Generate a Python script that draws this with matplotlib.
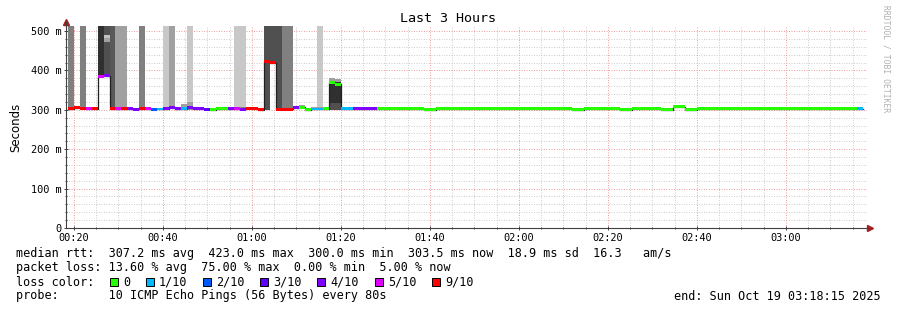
import numpy as np
import matplotlib.pyplot as plt
from matplotlib.patches import Rectangle

nan = np.nan

# time window (seconds since midnight)
t_start = 1095    # 00:18:15
t_end = 11895     # 03:18:15
step = 80
first_step = 1042

# median rtt per 80 s step (ms)
median = [nan, 303, 305, 304, 303, 303, 385, 387, 303, 303,
          303, 303, 301, 303, 303, 301, 302, 303, 305, 303,
          303, 305, 303, 303, 301, 300, 303, 303, 303, 303,
          301, 304, 303, 300, 423, 420, 301, 301, 301, 305,
          307, 300, 302, 302, 303, 370, 365, 303, 303, 303,
          303, 303, 303, 303, 303, 303, 303, 303, 303, 303,
          303, 300, 300, 303, 303, 303, 303, 303, 303, 303,
          303, 303, 303, 303, 303, 303, 303, 303, 303, 303,
          303, 303, 303, 303, 303, 303, 300, 300, 303, 303,
          303, 303, 303, 303, 300, 300, 303, 303, 303, 303,
          303, 300, 300, 308, 308, 300, 300, 303, 303, 303,
          303, 303, 303, 303, 303, 303, 303, 303, 303, 303,
          303, 303, 303, 303, 303, 303, 303, 303, 303, 303,
          303, 303, 303, 303, 303]

# lost pings (of 10) per step
loss = [0, 9, 9, 9, 5, 9, 5, 4, 9, 5,
        9, 4, 4, 9, 5, 2, 1, 4, 4, 4,
        1, 4, 4, 4, 3, 0, 0, 0, 4, 5,
        4, 9, 9, 9, 9, 9, 9, 9, 9, 4,
        0, 0, 1, 1, 0, 0, 0, 1, 1, 4,
        4, 4, 4, 0, 0, 0, 0, 0, 0, 0,
        0, 0, 0, 0, 0, 0, 0, 0, 0, 0,
        0, 0, 0, 0, 0, 0, 0, 0, 0, 0,
        0, 0, 0, 0, 0, 0, 0, 0, 0, 0,
        0, 0, 0, 0, 0, 0, 0, 0, 0, 0,
        0, 0, 0, 0, 0, 0, 0, 0, 0, 0,
        0, 0, 0, 0, 0, 0, 0, 0, 0, 0,
        0, 0, 0, 0, 0, 0, 0, 0, 0, 0,
        0, 0, 0, 0, 1]

loss_levels = [0, 1, 2, 3, 4, 5, 9]
loss_labels = ['0', '1/10', '2/10', '3/10', '4/10', '5/10', '9/10']
loss_colors = ['#26ff00', '#00b8ff', '#0059ff', '#5e00ff', '#7e00ff', '#dd00ff', '#ff0000']

# smoke (ping spread) per step
smoke_step = [1, 3, 6, 7, 7, 7, 8, 9, 10, 13, 17, 18, 20, 21, 21, 29, 30, 30,
              34, 35, 36, 37, 38, 40, 42, 43, 43, 45, 45, 45, 46, 46, 46,
              61, 101, 102]
smoke_lo = [303, 304, 385, 387, 473, 482, 303, 303, 303, 303, 303, 305, 300, 305, 300, 303, 301, 301,
            300, 420, 301, 301, 301, 307, 302, 302, 302, 300, 300, 372, 300, 300, 370,
            300, 300, 300]
smoke_hi = [515, 515, 515, 515, 482, 490, 515, 515, 515, 515, 515, 515, 315, 515, 320, 515, 515, 308,
            515, 515, 515, 515, 515, 312, 307, 515, 307, 380, 318, 380, 378, 316, 377,
            305, 305, 305]
smoke_grey = ['#808080', '#808080', '#303030', '#505050', '#a0a0a0', '#c0c0c0', '#585858',
              '#a0a0a0', '#a0a0a0', '#808080', '#c8c8c8', '#a0a0a0', '#a0a0a0', '#c8c8c8',
              '#a0a0a0', '#c8c8c8', '#c8c8c8', '#808080', '#505050', '#505050', '#505050',
              '#808080', '#808080', '#a0a0a0', '#a0a0a0', '#c8c8c8', '#a0a0a0', '#303030',
              '#505050', '#a0a0a0', '#303030', '#505050', '#a0a0a0', '#c8c8c8', '#c0c0c0',
              '#c0c0c0']

mono = 'DejaVu Sans Mono'
W, H = 897, 310

fig = plt.figure(figsize=(W / 100, H / 100), dpi=100)
fig.patch.set_facecolor('white')
ax = fig.add_axes([66 / W, 1 - 228 / H, 801 / W, 202 / H])

med = np.array(median, dtype=float)
starts = first_step + step * np.arange(len(med))

# smoke
sx = first_step + step * np.array(smoke_step)
ax.bar(sx, np.array(smoke_hi) - np.array(smoke_lo), bottom=smoke_lo, width=step,
       align='edge', color=smoke_grey, linewidth=0, zorder=2)

# median line
edges = np.append(starts, starts[-1] + step)
ax.step(edges, np.append(med, med[-1]), where='post', color='#202020', lw=0.9, zorder=3)

# loss coloured band
cmap = dict(zip(loss_levels, loss_colors))
band_cols = [cmap[l] for l in loss]
ok = ~np.isnan(med)
ax.bar(starts[ok], 7.5, bottom=med[ok] - 3.75, width=step, align='edge',
       color=[c for c, o in zip(band_cols, ok) if o], linewidth=0, zorder=4)

ax.set_xlim(t_start, t_end)
ax.set_ylim(0, 512.7)

# grid
for v in np.arange(0, 520, 20):
    if v % 100:
        ax.axhline(v, color='#cfcfcf', lw=0.72, ls=(0, (1, 1.5)), zorder=1)
for v in np.arange(1200, t_end, 300):
    if (v - 1200) % 1200:
        ax.axvline(v, color='#cfcfcf', lw=0.72, ls=(0, (1, 1.5)), zorder=1)
for v in range(100, 600, 100):
    ax.axhline(v, color='#f0a0a0', lw=0.72, ls=(0, (1, 1.5)), zorder=1)
for v in range(1200, t_end, 1200):
    ax.axvline(v, color='#f0a0a0', lw=0.72, ls=(0, (1, 1.5)), zorder=1)

xt = list(range(1200, 11000, 1200))
ax.set_xticks(xt)
ax.set_xticklabels(['%02d:%02d' % (t // 3600, t % 3600 // 60) for t in xt],
                   fontfamily=mono, fontsize=7.4)
ax.set_xticks(np.arange(1200, t_end, 300), minor=True)
ax.set_yticks(range(0, 600, 100))
ax.set_yticklabels(['0'] + ['%d m' % v for v in range(100, 600, 100)],
                   fontfamily=mono, fontsize=7.4)
ax.set_yticks(np.arange(0, 520, 20), minor=True)
ax.tick_params(which='major', length=3, width=0.7, color='#404040', direction='inout', pad=2)
ax.tick_params(which='minor', length=2, width=0.7, color='#404040', direction='inout')
for s in ['top', 'right']:
    ax.spines[s].set_visible(False)
for s in ['left', 'bottom']:
    ax.spines[s].set_color('#404040')
    ax.spines[s].set_linewidth(0.8)

# arrows
ax.plot([0], [1.02], marker='^', ms=4.5, color='#a02020', transform=ax.transAxes, clip_on=False)
ax.plot([1.004], [0], marker='>', ms=4.5, color='#a02020', transform=ax.transAxes, clip_on=False)
ax.plot([0, 0], [1, 1.02], color='#404040', lw=0.8, transform=ax.transAxes, clip_on=False)

ax.set_ylabel('Seconds', fontsize=8.5, labelpad=6)


def ftext(x, y, s, **kw):
    fig.text(x / W, 1 - y / H, s, va='center', **kw)


ftext(448, 19, 'Last 3 Hours', ha='center', fontfamily=mono, fontsize=9.6)
ftext(886, 59, 'RRDTOOL / TOBI OETIKER', ha='center', rotation=-90,
      fontfamily=mono, fontsize=5.8, color='#b0b0b0')

cw = 7.15
ftext(16, 254, 'median rtt:  307.2 ms avg  423.0 ms max  300.0 ms min  303.5 ms now  18.9 ms sd  16.3   am/s',
      fontfamily=mono, fontsize=8.5)
ftext(16, 268, 'packet loss: 13.60 % avg  75.00 % max  0.00 % min  5.00 % now',
      fontfamily=mono, fontsize=8.5)
ftext(16, 282, 'loss color:', fontfamily=mono, fontsize=8.5)
col = 13
for lab, c in zip(loss_labels, loss_colors):
    x0 = 16 + col * cw + 1
    fig.patches.append(Rectangle((x0 / W, 1 - 286 / H), 8 / W, 8 / H, facecolor=c,
                                 edgecolor='black', lw=0.7, transform=fig.transFigure))
    ftext(16 + (col + 2) * cw, 282, lab, fontfamily=mono, fontsize=8.5)
    col += 4 + len(lab)
ftext(16, 296, 'probe:       10 ICMP Echo Pings (56 Bytes) every 80s', fontfamily=mono, fontsize=8.5)
ftext(881, 296, 'end: Sun Oct 19 03:18:15 2025', ha='right', fontfamily=mono, fontsize=8.5)

fig.savefig('out.png', dpi=100)
